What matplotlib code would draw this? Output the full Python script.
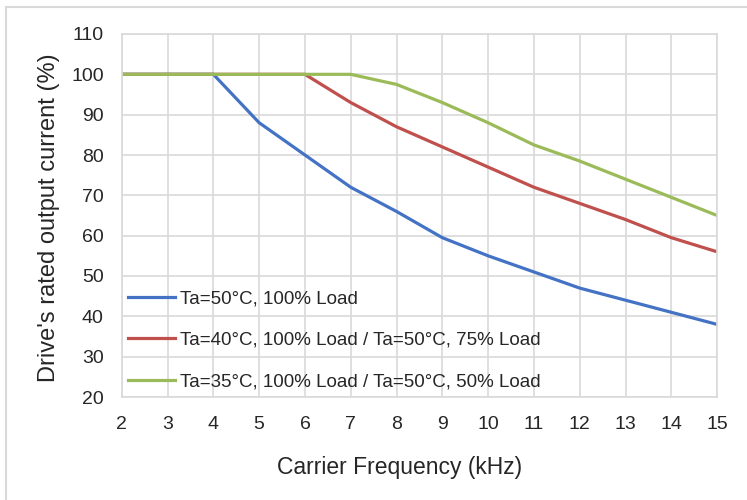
import matplotlib
matplotlib.use('Agg')
import matplotlib.pyplot as plt
from matplotlib.patches import Rectangle

plt.rcParams['font.family'] = ['Liberation Sans', 'DejaVu Sans']

freq = [2, 3, 4, 5, 6, 7, 8, 9, 10, 11, 12, 13, 14, 15]
load_50c = [100, 100, 100, 88, 80, 72, 66, 59.5, 55, 51, 47, 44, 41, 38]
load_40c = [100, 100, 100, 100, 100, 93, 87, 82, 77, 72, 68, 64, 59.5, 56]
load_35c = [100, 100, 100, 100, 100, 100, 97.5, 93, 88, 82.5, 78.5, 74, 69.5, 65]
names = ['Ta=50°C, 100% Load',
         'Ta=40°C, 100% Load / Ta=50°C, 75% Load',
         'Ta=35°C, 100% Load / Ta=50°C, 50% Load']
colors = ['#4472C4', '#C0504D', '#9BBB59']

fig = plt.figure(figsize=(7.47, 5.0), dpi=100)
fig.patches.append(Rectangle((6 / 747, -0.1), 1.2, 1 - 7 / 500 + 0.1, transform=fig.transFigure,
                             fill=False, edgecolor='#D9D9D9', linewidth=1.5))
ax = fig.add_axes([0.163, 0.206, 0.797, 0.726])

for ys, lab, c in zip([load_50c, load_40c, load_35c], names, colors):
    ax.plot(freq, ys, color=c, linewidth=2.3, label=lab)

ax.set_xlim(2, 15)
ax.set_ylim(20, 110)
ax.set_xticks(range(2, 16))
ax.set_yticks(range(20, 111, 10))
ax.grid(True, color='#D9D9D9', linewidth=1.2)
ax.set_axisbelow(True)
for s in ax.spines.values():
    s.set_color('#D9D9D9')
    s.set_linewidth(1.2)
ax.tick_params(length=0, labelsize=14, colors='#262626')
ax.tick_params(axis='y', pad=13)
ax.tick_params(axis='x', pad=14)

ax.set_xlabel('Carrier Frequency (kHz)', fontsize=16.5, color='#262626', labelpad=16, x=0.467)
ax.set_ylabel("Drive's rated output current (%)", fontsize=17, color='#262626', labelpad=8, y=0.493)

leg = ax.legend(loc='lower left', bbox_to_anchor=(0.0, 0.0), frameon=False, fontsize=13.5,
                handlelength=2.5, handletextpad=0.25, labelspacing=1.3, borderpad=0,
                borderaxespad=0.35)
for t in leg.get_texts():
    t.set_color('#262626')

fig.savefig('out.png', dpi=100)
